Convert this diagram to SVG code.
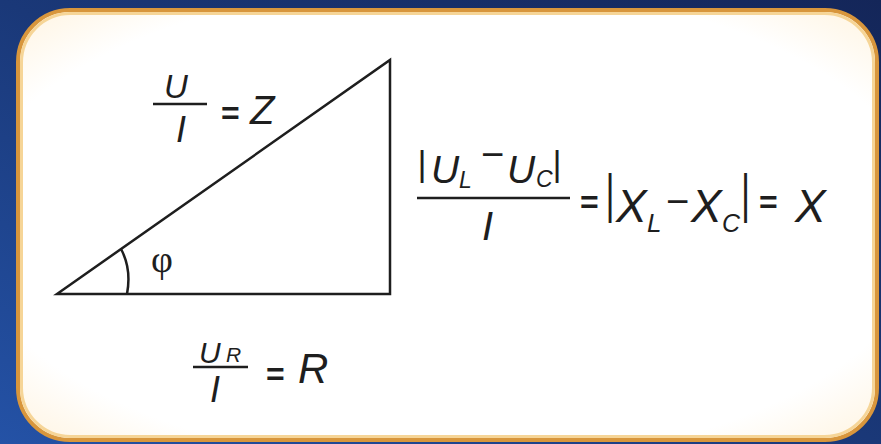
<svg xmlns="http://www.w3.org/2000/svg" width="881" height="444" viewBox="0 0 881 444">
<defs>
<linearGradient id="bg" x1="1" y1="0" x2="0" y2="1">
<stop offset="0" stop-color="#142659"/>
<stop offset="0.5" stop-color="#1a3878"/>
<stop offset="1" stop-color="#2452a6"/>
</linearGradient>
<radialGradient id="panel" cx="0.5" cy="0.5" r="0.72">
<stop offset="0.78" stop-color="#ffffff"/>
<stop offset="1" stop-color="#fff3de"/>
</radialGradient>
<style>
.t{font-family:"Liberation Sans",Arial,sans-serif;font-style:italic;fill:#1e1e1e}
.eq{font-family:"Liberation Sans",Arial,sans-serif;font-weight:bold;fill:#1e1e1e}
.bar{font-family:"Liberation Sans",Arial,sans-serif;fill:#1e1e1e}
.mn{font-family:"Liberation Sans",Arial,sans-serif;fill:#1e1e1e}
.ln{stroke:#1e1e1e;stroke-width:2.5;fill:none}
</style>
</defs>
<rect x="0" y="0" width="881" height="444" fill="url(#bg)"/>
<g id="panel-box">
<rect x="18" y="10" width="859" height="430" rx="52" fill="url(#panel)" stroke="#d8963c" stroke-width="4"/>
<rect x="21.5" y="13.5" width="852" height="423" rx="49" fill="none" stroke="#f6d597" stroke-width="3"/>
</g>
<g id="triangle">
<polygon class="ln" points="57,294 390,60 390,294" stroke-linejoin="miter"/>
<path class="ln" d="M127,294 C130,278 128,262 121,249" stroke-width="2"/>
<text x="151" y="272" style="font-family:'Liberation Serif','DejaVu Serif',serif;font-size:38px;fill:#1e1e1e">φ</text>
</g>
<g id="label-z">
<text class="t" x="164" y="98" font-size="33">U</text>
<line class="ln" x1="153" y1="104" x2="207" y2="104"/>
<text class="t" x="176" y="142" font-size="36">I</text>
<text class="eq" x="221" y="124" font-size="32">=</text>
<text class="t" x="250" y="124" font-size="40">Z</text>
</g>
<g id="label-r">
<text class="t" x="199" y="363" font-size="30">U</text>
<text class="t" x="226" y="362" font-size="21">R</text>
<line class="ln" x1="193" y1="367" x2="248" y2="367"/>
<text class="t" x="210" y="402" font-size="36">I</text>
<text class="eq" x="266" y="385" font-size="32">=</text>
<text class="t" x="298" y="383" font-size="42">R</text>
</g>
<g id="label-x">
<text class="bar" x="417.5" y="176" font-size="35">|</text>
<text class="t" x="431" y="183" font-size="39">U</text>
<text class="t" x="459" y="188" font-size="23">L</text>
<text class="mn" x="481" y="168" font-size="40">−</text>
<text class="t" x="507" y="183" font-size="39">U</text>
<text class="t" x="536" y="187" font-size="23">C</text>
<text class="bar" x="552.5" y="176" font-size="35">|</text>
<line class="ln" x1="417" y1="198" x2="570" y2="198"/>
<text class="t" x="482" y="240" font-size="40">I</text>
<text class="eq" x="580" y="213" font-size="32">=</text>
<text class="bar" transform="translate(605.5,211.6) scale(1,1.55)" font-size="35">|</text>
<text class="t" x="616" y="222" font-size="46">X</text>
<text class="t" x="647" y="232" font-size="26">L</text>
<text class="mn" x="666" y="215" font-size="40">−</text>
<text class="t" x="691" y="222" font-size="46">X</text>
<text class="t" x="722" y="232" font-size="25">C</text>
<text class="bar" transform="translate(741,211.6) scale(1,1.55)" font-size="35">|</text>
<text class="eq" x="759" y="213" font-size="32">=</text>
<text class="t" x="795" y="222" font-size="46">X</text>
</g>
</svg>
